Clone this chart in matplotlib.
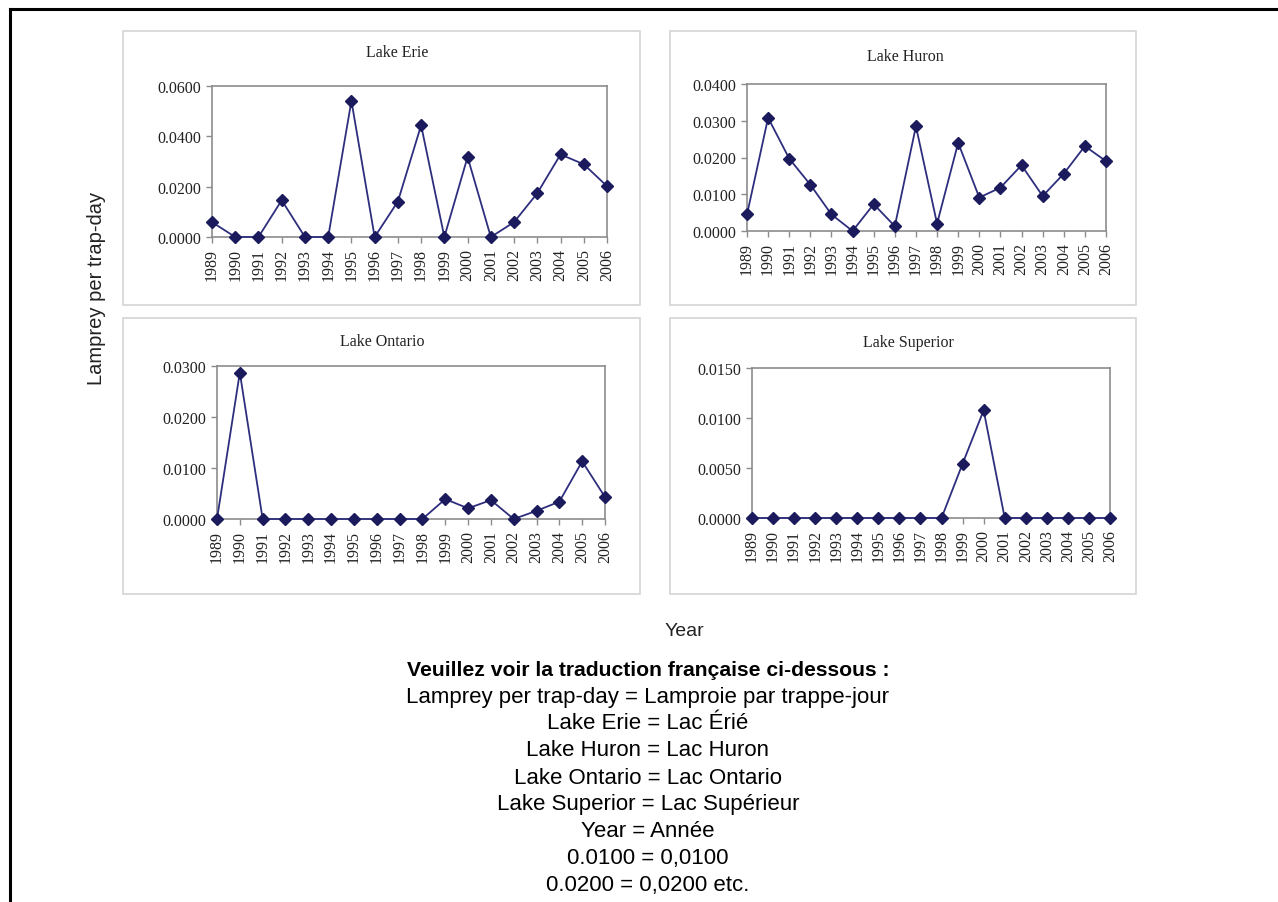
import matplotlib
matplotlib.use('Agg')
from matplotlib import pyplot as plt
from matplotlib.patches import Rectangle
from matplotlib.lines import Line2D
from matplotlib.ticker import FormatStrFormatter, MultipleLocator

years = list(range(1989, 2007))

erie = [0.0059, 0.0, 0.0, 0.0146, 0.0, 0.0, 0.0541, 0.0, 0.0141, 0.0444,
        0.0, 0.0318, 0.0, 0.0059, 0.0174, 0.0328, 0.0289, 0.0202]
huron = [0.0045, 0.0308, 0.0197, 0.0126, 0.0045, 0.0, 0.0073, 0.0013, 0.0285, 0.0020,
         0.0240, 0.0091, 0.0118, 0.0179, 0.0095, 0.0156, 0.0231, 0.0190]
ontario = [0.0, 0.0287, 0.0, 0.0, 0.0, 0.0, 0.0, 0.0, 0.0, 0.0,
           0.0039, 0.0021, 0.0037, 0.0, 0.0016, 0.0034, 0.0113, 0.0043]
superior = [0.0, 0.0, 0.0, 0.0, 0.0, 0.0, 0.0, 0.0, 0.0, 0.0,
            0.00543, 0.01077, 0.0, 0.0, 0.0, 0.0, 0.0, 0.0]

lakes = ['Lake Erie', 'Lake Huron', 'Lake Ontario', 'Lake Superior']
series = [erie, huron, ontario, superior]
y_max = [0.06, 0.04, 0.03, 0.015]
y_step = [0.02, 0.01, 0.01, 0.005]

notes_title = 'Veuillez voir la traduction française ci-dessous :'
notes = ['Lamprey per trap-day = Lamproie par trappe-jour',
         'Lake Erie = Lac Érié',
         'Lake Huron = Lac Huron',
         'Lake Ontario = Lac Ontario',
         'Lake Superior = Lac Supérieur',
         'Year = Année',
         '0.0100 = 0,0100',
         '0.0200 = 0,0200 etc.']

W, H = 1278, 903
fig = plt.figure(figsize=(W / 100, H / 100), dpi=100)
fig.patch.set_facecolor('white')


def px_box(left, top, right, bottom):
    return [left / W, 1 - bottom / H, (right - left) / W, (bottom - top) / H]


# outer frame: only top and left edges
fig.add_artist(Line2D([10 / W, 1], [1 - 10 / H, 1 - 10 / H], color='black', lw=2.2))
fig.add_artist(Line2D([10 / W, 10 / W], [0, 1 - 10 / H], color='black', lw=2.2))

panels = [(123, 32, 640, 306), (670, 32, 1136, 306),
          (123, 319, 640, 595), (670, 319, 1136, 595)]
plots = [(212, 87, 607, 238), (747, 85, 1106, 232),
         (217, 367, 605, 520), (752, 369, 1110, 519)]
titles_at = [(397, 53), (905, 57), (382, 342), (908, 343)]

serif = 'Liberation Serif'
sans = 'Liberation Sans'

for i in range(4):
    l, t, r, b = panels[i]
    fig.add_artist(Rectangle((l / W, 1 - b / H), (r - l) / W, (b - t) / H,
                             transform=fig.transFigure, fill=False,
                             edgecolor='#d4d4d4', lw=1.2))

    ax = fig.add_axes(px_box(*plots[i]))
    ax.plot(years, series[i], color='#2e2e7e', lw=1.3, marker='D',
            markersize=6, markerfacecolor='#1a1a5c', markeredgecolor='#1a1a5c',
            clip_on=False, zorder=3)
    ax.set_xlim(1989, 2006)
    ax.set_ylim(0, y_max[i])
    ax.yaxis.set_major_locator(MultipleLocator(y_step[i]))
    ax.yaxis.set_major_formatter(FormatStrFormatter('%.4f'))
    ax.set_xticks(years)
    ax.set_xticklabels([str(y) for y in years], rotation=90,
                       fontfamily=serif, fontsize=11.5, color='#222222')
    for lab in ax.get_yticklabels():
        lab.set_fontfamily(serif)
        lab.set_fontsize(11.5)
        lab.set_color('#222222')
    ax.tick_params(axis='both', direction='out', length=4, width=1,
                   color='#8c8c8c', pad=4)
    for sp in ax.spines.values():
        sp.set_color('#8c8c8c')
        sp.set_linewidth(1.2)
    fig.text(titles_at[i][0] / W, 1 - titles_at[i][1] / H, lakes[i],
             ha='center', va='center', fontfamily=serif, fontsize=11.5,
             color='#222222')

fig.text(97 / W, 1 - 288 / H, 'Lamprey per trap-day', rotation=90,
         ha='center', va='center', fontfamily=sans, fontsize=14.5, color='#222222')
fig.text(684 / W, 1 - 632 / H, 'Year', ha='center', va='center',
         fontfamily=sans, fontsize=14, color='#222222')

fig.text(648 / W, 1 - 670 / H, notes_title, ha='center', va='center',
         fontfamily=sans, fontsize=15.2, fontweight='bold', color='black')
for k, line in enumerate(notes):
    fig.text(648 / W, 1 - (697 + 27 * k) / H, line, ha='center', va='center',
             fontfamily=sans, fontsize=16, color='black')

fig.savefig('out.png', dpi=100, facecolor='white')
